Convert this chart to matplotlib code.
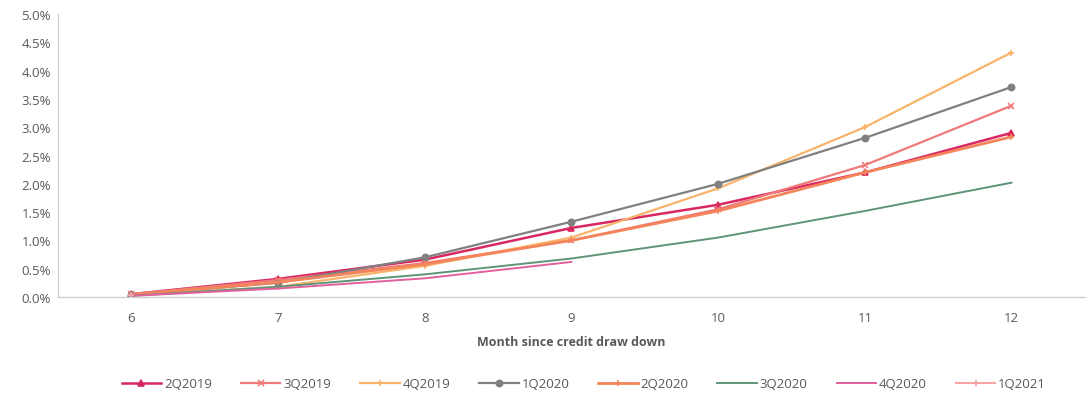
import matplotlib
matplotlib.use("Agg")
import matplotlib.pyplot as plt
from matplotlib.ticker import FuncFormatter

months = [6, 7, 8, 9, 10, 11, 12]

s_2Q2019 = [0.05, 0.32, 0.66, 1.22, 1.63, 2.20, 2.90]
s_3Q2019 = [0.05, 0.30, 0.60, 1.00, 1.55, 2.33, 3.38]
s_4Q2019 = [0.03, 0.18, 0.55, 1.05, 1.92, 3.00, 4.32]
s_1Q2020 = [0.04, 0.25, 0.70, 1.33, 2.00, 2.81, 3.71]
s_2Q2020 = [0.04, 0.26, 0.58, 1.00, 1.52, 2.20, 2.83]
s_3Q2020 = [0.02, 0.18, 0.40, 0.68, 1.05, 1.52, 2.02]
s_4Q2020 = [0.02, 0.15, 0.33, 0.62]
s_1Q2021 = [0.03]

labels = ["2Q2019", "3Q2019", "4Q2019", "1Q2020", "2Q2020", "3Q2020", "4Q2020", "1Q2021"]
series = [s_2Q2019, s_3Q2019, s_4Q2019, s_1Q2020, s_2Q2020, s_3Q2020, s_4Q2020, s_1Q2021]
colors = ["#D8285F", "#F07A7A", "#F8B46A", "#808080", "#F4845A", "#5E9478", "#E2609C", "#F6A3A8"]
markers = ["^", "x", "+", "o", "+", None, None, "+"]
widths = [1.8, 1.6, 1.6, 1.6, 2.0, 1.4, 1.4, 1.5]

plt.rcParams['font.family'] = ['Open Sans', 'DejaVu Sans']

fig = plt.figure(figsize=(10.87, 4.06), dpi=100)
ax = fig.add_axes([0.0534, 0.266, 0.9446, 0.697])

for lab, vals, c, m, w in zip(labels, series, colors, markers, widths):
    ax.plot(months[:len(vals)], vals, color=c, marker=m, markersize=4.5, lw=w,
            markeredgewidth=1.2, label=lab)

ax.set_xlim(5.5, 12.5)
ax.set_ylim(0, 5.0)
ax.set_yticks([i * 0.5 for i in range(11)])
ax.yaxis.set_major_formatter(FuncFormatter(lambda v, p: f"{v:.1f}%"))
ax.set_xticks(months)

for sp in ["top", "right"]:
    ax.spines[sp].set_visible(False)
for sp in ["left", "bottom"]:
    ax.spines[sp].set_color("#D0D0D0")
    ax.spines[sp].set_linewidth(1.0)

ax.tick_params(axis="y", length=0, labelsize=9.5, labelcolor="#595959", pad=5)
ax.tick_params(axis="x", length=0, labelsize=9.5, labelcolor="#595959", pad=10)

ax.set_xlabel("Month since credit draw down", fontsize=9, fontweight="bold",
              color="#595959", labelpad=8)

leg = fig.legend(loc="center", bbox_to_anchor=(0.537, 0.052), ncol=8, frameon=False,
                 fontsize=9.5, handlelength=3.0, columnspacing=2.2, handletextpad=0.2,
                 labelcolor="#595959")

fig.savefig("out.png", dpi=100, facecolor="white")
